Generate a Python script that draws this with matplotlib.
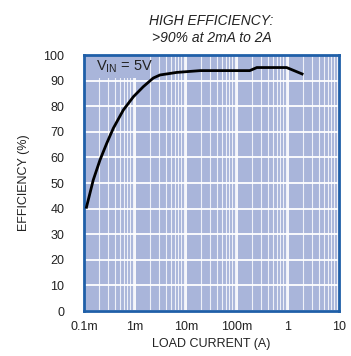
import numpy as np
import matplotlib.pyplot as plt
from matplotlib.ticker import LogLocator, NullFormatter, FixedLocator

plt.rcParams['font.family'] = ['Liberation Sans Narrow', 'Liberation Sans', 'DejaVu Sans']

# load current (A) and efficiency (%)
load_current = [1.1e-4, 1.52e-4, 2.06e-4, 2.79e-4, 3.76e-4, 5.9e-4, 9.3e-4, 1.45e-3,
                2.28e-3, 3.1e-3, 6.6e-3, 1.9e-2, 0.178, 0.245, 0.94, 2.0]
efficiency = [40, 51.2, 59, 65.5, 71.4, 78.5, 83.7, 87.6,
              91.0, 92.2, 93.2, 93.9, 93.9, 95.1, 95.1, 92.4]

x_ticks = [1e-4, 1e-3, 1e-2, 1e-1, 1, 10]
x_labels = ['0.1m', '1m', '10m', '100m', '1', '10']
y_ticks = list(range(0, 101, 10))

bg = '#a9b5da'
fig = plt.figure(figsize=(3.51, 3.56), dpi=100)
ax = fig.add_axes([84/351, 45/356, 255/351, 256/356])
ax.set_facecolor(bg)

ax.plot(load_current, efficiency, color='black', lw=2, solid_capstyle='butt', zorder=3)

ax.set_xscale('log')
ax.set_xlim(1e-4, 10)
ax.set_ylim(0, 100)
ax.xaxis.set_major_locator(FixedLocator(x_ticks))
ax.set_xticklabels(x_labels)
ax.xaxis.set_minor_locator(LogLocator(base=10, subs=np.arange(2, 10)))
ax.xaxis.set_minor_formatter(NullFormatter())
ax.set_yticks(y_ticks)

ax.grid(which='major', color='white', lw=1.3)
ax.grid(which='minor', axis='x', color='#eef0f8', lw=0.8)
ax.set_axisbelow(True)
ax.tick_params(axis='y', length=0, labelsize=9, pad=14, colors='#222222')
ax.tick_params(axis='x', which='both', length=0, labelsize=9, pad=7, colors='#222222')

for s in ax.spines.values():
    s.set_color('#1f5fa8')
    s.set_linewidth(2)

# label with a patch of background hiding the grid behind it
ax.fill_between([1e-4, 1.95e-3], 91, 100, color=bg, lw=0, zorder=1)
ax.text(1.7e-4, 95.3, r'V$_{\mathregular{IN}}$ = 5V', fontsize=10.5, va='center', ha='left',
        color='#222222', zorder=4)

ax.set_xlabel('LOAD CURRENT (A)', fontsize=9, color='#222222', labelpad=4)
ax.set_ylabel('EFFICIENCY (%)', fontsize=9, color='#222222', labelpad=10)
ax.set_title('HIGH EFFICIENCY:\n>90% at 2mA to 2A', fontsize=10, style='italic',
             color='#222222', pad=9, linespacing=1.35)

fig.savefig('out.png', dpi=100)
